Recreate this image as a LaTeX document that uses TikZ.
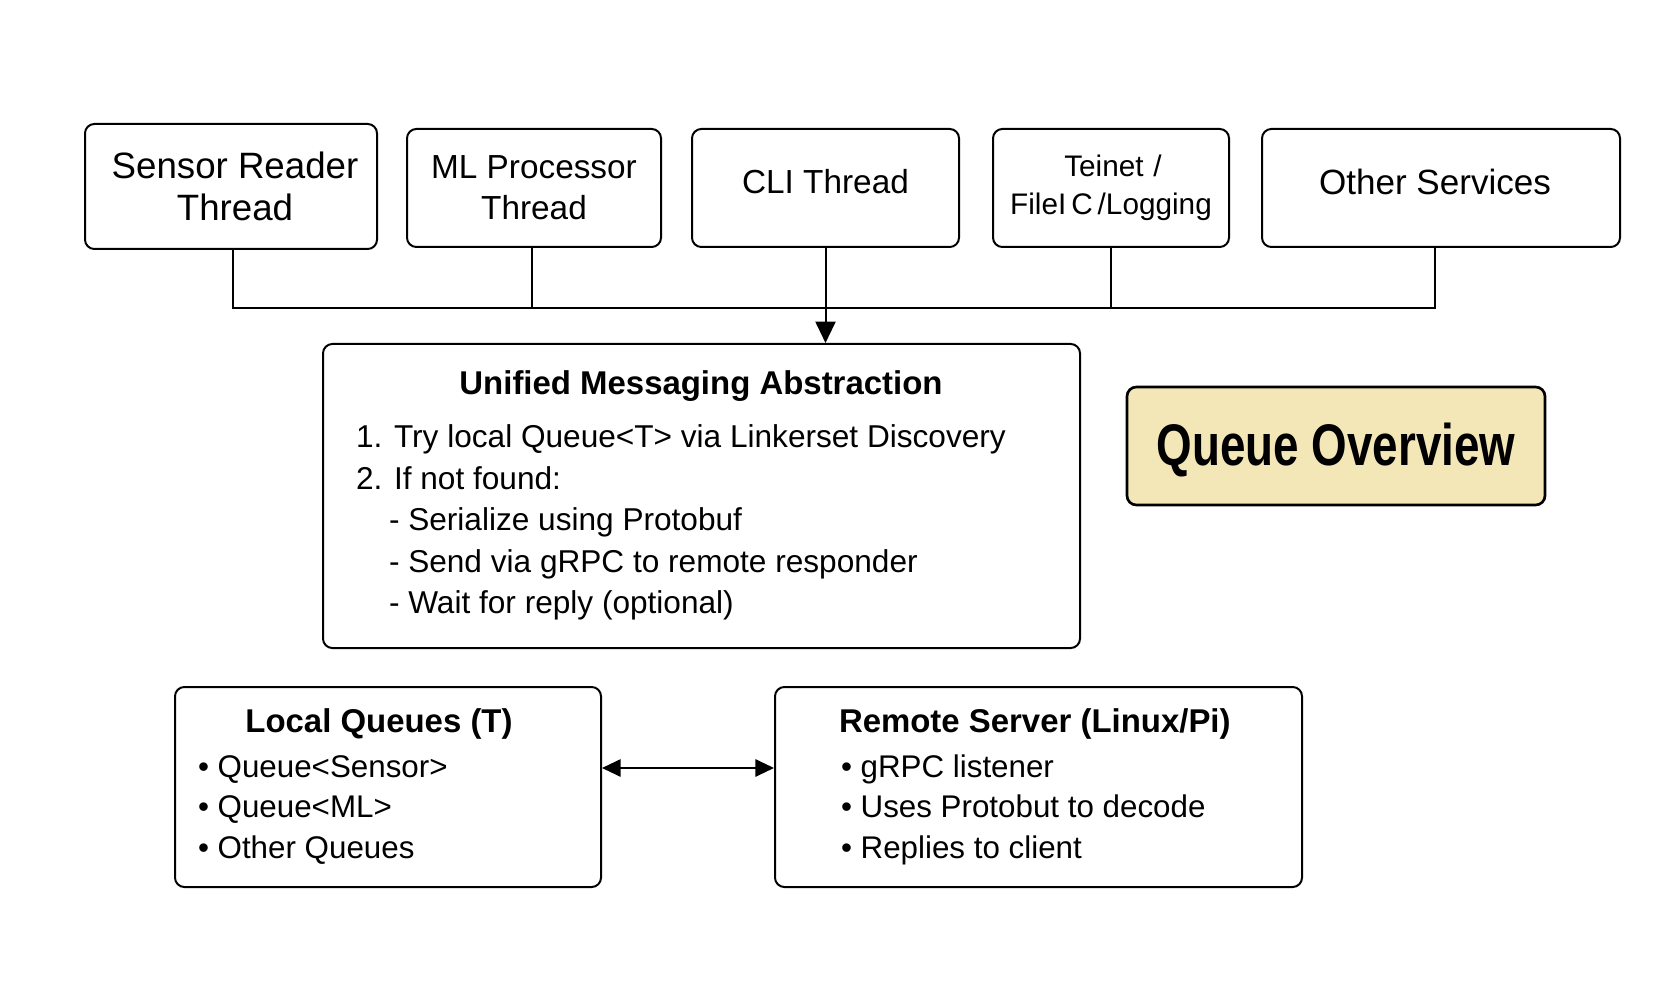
\documentclass[tikz,border=0pt]{standalone}
\usepackage{fontspec}
\setmainfont{Liberation Sans}
\newfontfamily\overviewfont{Liberation Sans}[FakeStretch=0.78]
\usetikzlibrary{arrows.meta}
\definecolor{ovfill}{RGB}{244,231,183}
\tikzset{every picture/.style={line width=1.5pt}}

\begin{document}
\begin{tikzpicture}[x=0.75pt,y=0.75pt,yscale=-1,xscale=1,
  threadbox/.style={draw, rounded corners=7pt, inner sep=0pt, align=center, font=\fontsize{25}{30.75}\selectfont},
  infobox/.style={draw, rounded corners=7pt, inner sep=0pt},
  boxtext/.style={anchor=base west, inner sep=0pt, font=\fontsize{23.7}{30}\selectfont},
  itemtext/.style={anchor=base west, inner sep=0pt, font=\fontsize{23.5}{30}\selectfont},
  titletext/.style={anchor=base, inner sep=0pt, font=\fontsize{24.7}{30}\selectfont\bfseries}]
%set diagram size
\useasboundingbox (0,0) rectangle (1660,998);

%Shape: Rounded Rect [id:sensor]
\node[threadbox, minimum width=219pt, minimum height=93.75pt, font=\fontsize{27.5}{31}\selectfont] (sensor) at (231,186.5) {\hspace*{6pt}Sensor Reader\\\hspace*{6pt}Thread};
%Shape: Rounded Rect [id:ml]
\node[threadbox, minimum width=190.5pt, minimum height=88.5pt] (ml) at (534,188) {ML Processor\\Thread};
%Shape: Rounded Rect [id:cli]
\node[threadbox, minimum width=200.25pt, minimum height=88.5pt] (cli) at (825.5,188) {\raisebox{4.5pt}[\height][\depth]{CLI Thread}};
%Shape: Rounded Rect [id:telnet]
\node[threadbox, minimum width=177pt, minimum height=88.5pt, font=\fontsize{22.3}{28.5}\selectfont] (telnet) at (1111,188) {\hspace*{3pt}Teinet\,\,/\\FileI\,C\,/Logging};
%Shape: Rounded Rect [id:other]
\node[threadbox, minimum width=268.5pt, minimum height=88.5pt, font=\fontsize{26.3}{31}\selectfont] (other) at (1441,188) {\raisebox{4.5pt}[\height][\depth]{Other Services}\hspace*{9pt}};

%Shape: Rounded Rect [id:uma]
\node[infobox, minimum width=567.75pt, minimum height=228pt] (uma) at (701.5,496) {};
%Shape: Rounded Rect [id:overview]
\node[infobox, fill=ovfill, line width=2pt, minimum width=313.5pt, minimum height=88.5pt, font=\overviewfont\fontsize{44}{50}\selectfont\bfseries] (overview) at (1336,446) {\raisebox{-3.2pt}[\height][\depth]{Queue Overview}};
%Shape: Rounded Rect [id:local]
\node[infobox, minimum width=319.5pt, minimum height=150pt] (local) at (388,787) {};
%Shape: Rounded Rect [id:remote]
\node[infobox, minimum width=395.25pt, minimum height=150pt] (remote) at (1038.5,787) {};

%Lines: bus from the threads
\coordinate (bus) at (0,308);
\coordinate (sensordrop) at ([xshift=1.5pt]sensor.south);
\coordinate (mldrop) at ([xshift=-1.5pt]ml.south);
\coordinate (otherdrop) at ([xshift=-4.5pt]other.south);
\draw (sensordrop) |- (bus -| otherdrop) -- (otherdrop);
\draw (mldrop) -- (mldrop |- bus);
\draw (telnet.south) -- (telnet.south |- bus);
\draw [-{Triangle[width=15pt,length=16pt]}] (cli.south) -- (cli.south |- uma.north);

%Lines: local <-> remote
\coordinate (link) at (0,768);
\draw [{Triangle[width=13pt,length=14pt]}-{Triangle[width=13pt,length=14pt]}] (local.east |- link) -- (remote.west |- link);

% Text Node
\node[titletext] (umatitle) at (701,395) {Unified Messaging Abstraction};
\node[boxtext] (step1) at (355,448) {1. Try local Queue<T> via Linkerset Discovery};
\node[boxtext] (step2) at (355,489) {2. If not found:};
\node[boxtext] (step2a) at (388,530) {- Serialize using Protobuf};
\node[boxtext] (step2b) at (388,572) {- Send via gRPC to remote responder};
\node[boxtext] (step2c) at (388,613) {- Wait for reply (optional)};

% Text Node
\node[titletext] (localtitle) at (379,732) {Local Queues (T)};
\node[itemtext] (localq1) at (197,777) {• Queue<Sensor>};
\node[itemtext] (localq2) at (197,817) {• Queue<ML>};
\node[itemtext] (localq3) at (197,858) {• Other Queues};

% Text Node
\node[titletext, anchor=base west] (remotetitle) at (838,732) {Remote Server (Linux/Pi)};
\node[itemtext] (remote1) at (840,777) {• gRPC listener};
\node[itemtext] (remote2) at (840,817) {• Uses Protobut to decode};
\node[itemtext] (remote3) at (840,858) {• Replies to client};
\end{tikzpicture}
\end{document}
